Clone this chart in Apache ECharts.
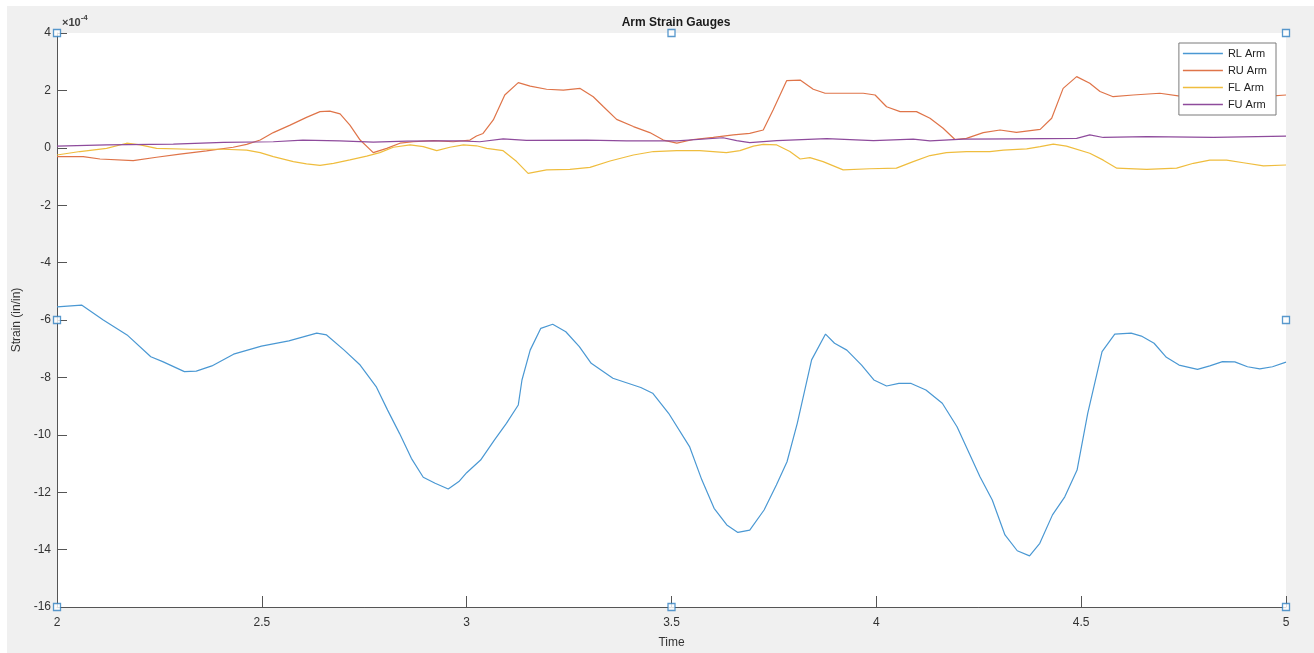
<!DOCTYPE html>
<html>
<head>
<meta charset="utf-8">
<script src="https://cdn.jsdelivr.net/npm/echarts@6/dist/echarts.min.js"></script>
<style>
  html, body { margin: 0; padding: 0; background: #ffffff; width: 1314px; height: 653px; overflow: hidden; }
  #main { position: absolute; left: 7px; top: 6px; width: 1307px; height: 647px; background: #f0f0f0; }
</style>
</head>
<body>
<div id="main"></div>
<script>
// Values in units of 1e-4 in/in
const seriesNames = ['RL Arm', 'RU Arm', 'FL Arm', 'FU Arm'];
const xTicks = [2, 2.5, 3, 3.5, 4, 4.5, 5];
const yTicks = [-16, -14, -12, -10, -8, -6, -4, -2, 0, 2, 4];

const rlTime = [2.0, 2.06, 2.113, 2.171, 2.229, 2.258, 2.311, 2.34, 2.378, 2.431, 2.499, 2.566, 2.634, 2.658, 2.701, 2.74, 2.779, 2.807, 2.836, 2.865, 2.894, 2.923, 2.955, 2.981, 3.0, 3.034, 3.068, 3.097, 3.126, 3.135, 3.155, 3.181, 3.21, 3.242, 3.275, 3.304, 3.357, 3.425, 3.454, 3.493, 3.544, 3.574, 3.604, 3.635, 3.662, 3.691, 3.726, 3.756, 3.782, 3.807, 3.842, 3.876, 3.898, 3.928, 3.964, 3.994, 4.025, 4.055, 4.085, 4.121, 4.161, 4.197, 4.227, 4.253, 4.283, 4.314, 4.344, 4.374, 4.399, 4.43, 4.46, 4.49, 4.516, 4.551, 4.582, 4.622, 4.647, 4.678, 4.708, 4.739, 4.784, 4.814, 4.845, 4.875, 4.906, 4.936, 4.967, 5.0];
const rlValues = [-5.54, -5.48, -6.0, -6.52, -7.28, -7.45, -7.80, -7.78, -7.60, -7.19, -6.91, -6.73, -6.46, -6.52, -7.05, -7.57, -8.32, -9.14, -9.95, -10.82, -11.48, -11.69, -11.89, -11.63, -11.32, -10.88, -10.18, -9.6, -8.96, -8.09, -7.05, -6.29, -6.15, -6.41, -6.93, -7.51, -8.03, -8.35, -8.55, -9.25, -10.41, -11.57, -12.56, -13.14, -13.4, -13.32, -12.62, -11.75, -10.94, -9.6, -7.39, -6.49, -6.81, -7.05, -7.57, -8.09, -8.30, -8.21, -8.21, -8.44, -8.9, -9.72, -10.65, -11.46, -12.27, -13.49, -14.04, -14.22, -13.78, -12.79, -12.16, -11.23, -9.25, -7.1, -6.49, -6.46, -6.56, -6.81, -7.3, -7.57, -7.72, -7.6, -7.45, -7.46, -7.63, -7.7, -7.63, -7.47];

const ruTime = [2.0, 2.064, 2.105, 2.186, 2.243, 2.30, 2.365, 2.43, 2.463, 2.496, 2.528, 2.569, 2.609, 2.642, 2.666, 2.691, 2.715, 2.74, 2.772, 2.805, 2.837, 2.87, 2.919, 2.967, 3.008, 3.024, 3.04, 3.065, 3.093, 3.126, 3.155, 3.195, 3.236, 3.277, 3.309, 3.334, 3.366, 3.407, 3.447, 3.48, 3.513, 3.553, 3.602, 3.651, 3.691, 3.724, 3.748, 3.781, 3.814, 3.846, 3.875, 3.919, 3.968, 3.997, 4.025, 4.058, 4.098, 4.131, 4.163, 4.192, 4.22, 4.261, 4.302, 4.342, 4.4, 4.428, 4.456, 4.489, 4.521, 4.546, 4.578, 4.627, 4.692, 4.741, 4.8, 4.86, 4.92, 4.96, 5.0];
const ruValues = [-0.31, -0.31, -0.39, -0.45, -0.33, -0.22, -0.11, 0.02, 0.12, 0.27, 0.53, 0.79, 1.06, 1.26, 1.28, 1.18, 0.79, 0.27, -0.17, -0.02, 0.16, 0.21, 0.25, 0.21, 0.27, 0.41, 0.50, 0.97, 1.84, 2.27, 2.15, 2.04, 2.01, 2.07, 1.78, 1.43, 0.99, 0.74, 0.53, 0.27, 0.16, 0.29, 0.36, 0.45, 0.50, 0.62, 1.32, 2.34, 2.36, 2.04, 1.90, 1.90, 1.90, 1.84, 1.43, 1.26, 1.26, 1.03, 0.68, 0.29, 0.33, 0.53, 0.62, 0.54, 0.64, 1.03, 2.07, 2.48, 2.25, 1.96, 1.78, 1.84, 1.90, 1.80, 1.85, 1.80, 1.75, 1.80, 1.84];

const flTime = [2.0, 2.056, 2.121, 2.17, 2.203, 2.243, 2.325, 2.406, 2.463, 2.496, 2.528, 2.577, 2.609, 2.642, 2.675, 2.715, 2.756, 2.788, 2.821, 2.862, 2.894, 2.927, 2.959, 2.992, 3.024, 3.049, 3.089, 3.122, 3.15, 3.195, 3.252, 3.301, 3.35, 3.407, 3.456, 3.513, 3.569, 3.634, 3.667, 3.7, 3.724, 3.757, 3.789, 3.814, 3.838, 3.87, 3.919, 3.984, 4.049, 4.09, 4.131, 4.171, 4.22, 4.277, 4.31, 4.367, 4.4, 4.432, 4.464, 4.521, 4.554, 4.587, 4.66, 4.733, 4.774, 4.814, 4.855, 4.896, 4.945, 5.0];
const flValues = [-0.25, -0.13, -0.02, 0.16, 0.10, -0.02, -0.05, -0.05, -0.08, -0.17, -0.31, -0.48, -0.56, -0.61, -0.54, -0.42, -0.29, -0.17, 0.02, 0.10, 0.04, -0.10, 0.02, 0.10, 0.07, -0.02, -0.10, -0.48, -0.89, -0.77, -0.75, -0.68, -0.46, -0.25, -0.13, -0.10, -0.10, -0.17, -0.10, 0.06, 0.12, 0.10, -0.13, -0.39, -0.34, -0.48, -0.77, -0.73, -0.71, -0.48, -0.27, -0.17, -0.13, -0.13, -0.08, -0.04, 0.04, 0.13, 0.06, -0.19, -0.43, -0.71, -0.75, -0.71, -0.54, -0.43, -0.43, -0.52, -0.63, -0.60];

const fuTime = [2.0, 2.121, 2.284, 2.406, 2.528, 2.60, 2.69, 2.772, 2.854, 2.935, 2.984, 3.032, 3.089, 3.146, 3.293, 3.39, 3.513, 3.626, 3.659, 3.691, 3.757, 3.879, 3.993, 4.09, 4.131, 4.212, 4.334, 4.489, 4.521, 4.554, 4.66, 4.823, 5.0];
const fuValues = [0.06, 0.10, 0.13, 0.19, 0.21, 0.27, 0.24, 0.20, 0.23, 0.24, 0.24, 0.21, 0.31, 0.26, 0.27, 0.24, 0.24, 0.35, 0.25, 0.18, 0.25, 0.32, 0.25, 0.30, 0.24, 0.30, 0.31, 0.33, 0.45, 0.36, 0.39, 0.36, 0.41];

// selection handles shown on the axes box
const handleTime = [2, 3.5, 5, 2, 5, 2, 3.5, 5];
const handleValues = [4, 4, 4, -6, -6, -16, -16, -16];

const colors = ['#4a98d3', '#df7449', '#efbd3e', '#8e4b9c'];
const times = [rlTime, ruTime, flTime, fuTime];
const vals = [rlValues, ruValues, flValues, fuValues];

const zip = (t, v) => t.map((x, i) => [x, v[i]]);
const font = '"Liberation Sans", Arial, Helvetica, sans-serif';

const lineSeries = seriesNames.map((name, k) => ({
  name: name,
  type: 'line',
  data: zip(times[k], vals[k]),
  symbol: 'none',
  showSymbol: false,
  smooth: false,
  lineStyle: { color: colors[k], width: 1.2 },
  itemStyle: { color: colors[k] },
  emphasis: { disabled: true },
  z: 2 + k
}));

const chart = echarts.init(document.getElementById('main'), null, { renderer: 'canvas' });
chart.setOption({
  animation: false,
  backgroundColor: '#f0f0f0',
  color: colors,
  title: [
    {
      text: 'Arm Strain Gauges',
      left: 664, top: 6, textAlign: 'center',
      textStyle: { fontFamily: font, fontSize: 12, fontWeight: 'bold', color: '#1a1a1a' }
    },
    {
      text: '{a|×10}{b|-4}',
      left: 50, top: 0,
      textStyle: {
        fontFamily: font,
        rich: {
          a: { fontFamily: font, fontSize: 11, color: '#404040', padding: [6, 0, 0, 0] },
          b: { fontFamily: font, fontSize: 8, color: '#404040', padding: [0, 0, 4, 0] }
        }
      }
    }
  ],
  legend: {
    data: seriesNames.map(n => ({ name: n, icon: 'rect' })),
    orient: 'vertical',
    right: 38, top: 37,
    itemWidth: 40, itemHeight: 1.5, itemGap: 4, itemTextGap: 4,
    padding: [4, 9, 4, 4],
    backgroundColor: '#ffffff',
    borderColor: '#7a7a7a', borderWidth: 1, borderRadius: 0,
    textStyle: { fontFamily: font, fontSize: 11, color: '#222', lineHeight: 13 },
    selectedMode: false,
    z: 10
  },
  grid: {
    left: 50, top: 27, width: 1229, height: 574,
    show: true, backgroundColor: '#ffffff', borderWidth: 0,
    containLabel: false,
    outerBoundsMode: 'none'
  },
  xAxis: {
    type: 'value', min: 2, max: 5, interval: 0.5,
    name: 'Time', nameLocation: 'middle', nameGap: 30,
    nameTextStyle: { fontFamily: font, fontSize: 12, color: '#333' },
    axisLine: { show: true, onZero: false, lineStyle: { color: '#555', width: 1 } },
    axisTick: { show: true, inside: true, length: 11, lineStyle: { color: '#555' } },
    axisLabel: {
      fontFamily: font, fontSize: 12, color: '#333', margin: 10,
      formatter: v => (xTicks.indexOf(v) >= 0 ? String(v) : '')
    },
    splitLine: { show: false }
  },
  yAxis: {
    type: 'value', min: -16, max: 4, interval: 2,
    name: 'Strain (in/in)', nameLocation: 'middle', nameGap: 34, nameRotate: 90,
    nameTextStyle: { fontFamily: font, fontSize: 12, color: '#333' },
    axisLine: { show: true, onZero: false, lineStyle: { color: '#555', width: 1 } },
    axisTick: { show: true, inside: true, length: 10, lineStyle: { color: '#555' } },
    axisLabel: {
      fontFamily: font, fontSize: 12, color: '#333', margin: 6,
      formatter: v => (yTicks.indexOf(v) >= 0 ? String(v) : '')
    },
    splitLine: { show: false }
  },
  series: lineSeries.concat([{
    name: 'handles',
    type: 'scatter',
    data: zip(handleTime, handleValues),
    symbol: 'rect',
    symbolSize: 7,
    clip: false,
    itemStyle: { color: '#ffffff', borderColor: '#2f7fc1', borderWidth: 1.3 },
    emphasis: { disabled: true },
    silent: true,
    z: 8
  }])
});
</script>
</body>
</html>
